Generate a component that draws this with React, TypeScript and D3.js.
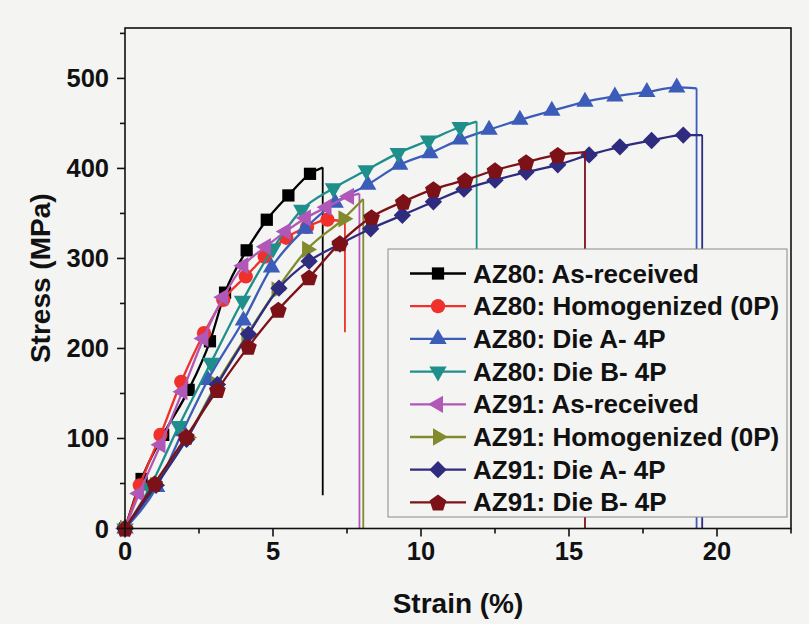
import React from "react";
import * as d3 from "d3";

// ---------- data ----------
const seriesNames = [
  "AZ80: As-received",
  "AZ80: Homogenized (0P)",
  "AZ80: Die A- 4P",
  "AZ80: Die B- 4P",
  "AZ91: As-received",
  "AZ91: Homogenized (0P)",
  "AZ91: Die A- 4P",
  "AZ91: Die B- 4P",
];

const az80AsRecStrain = [0, 0.56, 1.29, 2.15, 2.87, 3.38, 4.11, 4.79, 5.52, 6.25];
const az80AsRecStress = [0, 55, 104, 154, 208, 262, 309, 343, 370, 394];

const az80HomStrain = [0, 0.5, 1.2, 1.9, 2.67, 3.32, 4.08, 4.72, 5.45, 6.15, 6.84];
const az80HomStress = [0, 48, 104, 163, 217, 254, 280, 302, 323, 335, 343];

const az80DieAStrain = [0, 1.07, 1.95, 2.8, 4.0, 4.95, 6.08, 7.1, 8.2, 9.28, 10.3, 11.32, 12.3, 13.34, 14.42, 15.54, 16.55, 17.63, 18.64];
const az80DieAStress = [0, 46, 108, 165, 231, 290, 333, 362, 382, 404, 417, 432, 443, 454, 464, 474, 480, 485, 490];

const az80DieBStrain = [0, 0.83, 1.82, 2.9, 3.97, 5.0, 5.97, 7.04, 8.15, 9.23, 10.25, 11.32];
const az80DieBStress = [0, 45, 114, 184, 253, 311, 354, 378, 398, 417, 431, 446];

const az91AsRecStrain = [0, 0.48, 1.2, 1.94, 2.65, 3.32, 4.0, 4.76, 5.43, 6.11, 6.81, 7.57];
const az91AsRecStress = [0, 39, 93, 152, 211, 257, 292, 313, 330, 345, 357, 369];

const az91HomStrain = [0, 1.02, 2.1, 3.08, 4.1, 5.12, 6.15, 7.38];
const az91HomStress = [0, 48, 101, 160, 214, 265, 310, 344];

const az91DieAStrain = [0, 1.05, 2.08, 3.12, 4.17, 5.2, 6.22, 7.26, 8.3, 9.37, 10.42, 11.45, 12.5, 13.55, 14.62, 15.68, 16.72, 17.79, 18.86];
const az91DieAStress = [0, 48, 99, 160, 216, 267, 297, 316, 333, 348, 363, 377, 387, 396, 404, 415, 424, 431, 437];

const az91DieBStrain = [0, 1.0, 2.07, 3.12, 4.17, 5.18, 6.22, 7.26, 8.33, 9.4, 10.42, 11.49, 12.5, 13.55, 14.62];
const az91DieBStress = [0, 50, 102, 154, 202, 243, 279, 317, 346, 363, 377, 387, 398, 407, 415];

// fracture point (strain, stress) and stress reached by the final drop
const fractureStrain = [6.68, 7.43, 19.31, 11.88, 7.92, 8.05, 19.5, 15.54];
const fractureStress = [401, 341, 489, 452, 372, 366, 437, 418];
const dropStress = [37, 218, 0, 120, 0, 0, 0, 0];

const strainTicks = [0, 5, 10, 15, 20];
const strainMinorTicks = [2.5, 7.5, 12.5, 17.5, 22.5];
const stressTicks = [0, 100, 200, 300, 400, 500];
const stressMinorTicks = [50, 150, 250, 350, 450, 550];

const allStrain = [az80AsRecStrain, az80HomStrain, az80DieAStrain, az80DieBStrain, az91AsRecStrain, az91HomStrain, az91DieAStrain, az91DieBStrain];
const allStress = [az80AsRecStress, az80HomStress, az80DieAStress, az80DieBStress, az91AsRecStress, az91HomStress, az91DieAStress, az91DieBStress];

// ---------- styles ----------
const colors = ["#000000", "#f0312b", "#3b5cb8", "#1e8f8b", "#b058b8", "#818b2c", "#2f2b7e", "#7c1218"];
const symbolKinds = ["square", "circle", "up", "down", "left", "right", "diamond", "pentagon"];
const BG = "#f4f4f3";
const FONT = "'Liberation Sans', Arial, Helvetica, sans-serif";

function symbolPath(kind: string): string {
  switch (kind) {
    case "square":
      return d3.symbol(d3.symbolSquare, 150)()!;
    case "circle":
      return d3.symbol(d3.symbolCircle, 160)()!;
    case "up":
    case "down":
    case "left":
    case "right":
      return d3.symbol(d3.symbolTriangle, 130)()!;
    case "diamond":
      return d3.symbol(d3.symbolSquare, 150)()!;
    case "pentagon": {
      const r = 8.8;
      const pts = d3.range(5).map((i) => {
        const a = -Math.PI / 2 + (i * 2 * Math.PI) / 5;
        return [r * Math.cos(a), r * Math.sin(a) + 0.9];
      });
      return "M" + pts.map((p) => p.join(",")).join("L") + "Z";
    }
  }
  return "";
}
function symbolRotation(kind: string): number {
  switch (kind) {
    case "down":
      return 180;
    case "left":
      return -90;
    case "right":
      return 90;
    case "diamond":
      return 45;
  }
  return 0;
}

function Marker({ kind, color, x, y }: { kind: string; color: string; x: number; y: number }) {
  return (
    <path
      d={symbolPath(kind)}
      fill={color}
      transform={`translate(${x},${y}) rotate(${symbolRotation(kind)})`}
    />
  );
}

export default function App() {
  const W = 809;
  const H = 624;
  const x = d3.scaleLinear().domain([0, 22.5]).range([125, 791]);
  const y = d3.scaleLinear().domain([0, 556]).range([528.5, 28]);

  const line = d3
    .line<[number, number]>()
    .x((d) => x(d[0]))
    .y((d) => y(d[1]))
    .curve(d3.curveMonotoneX);

  const legendX = 388;
  const legendY = 249;
  const legendW = 399;
  const legendH = 268;
  const rowY0 = 273.5;
  const rowStep = 32.7;

  return (
    <svg
      width={W}
      height={H}
      style={{ position: "absolute", left: 0, top: 0, background: BG }}
      fontFamily={FONT}
    >
      <rect x={0} y={0} width={W} height={H} fill={BG} />

      {/* series */}
      {allStrain.map((sx, i) => {
        const pts: [number, number][] = sx.map((s, j) => [s, allStress[i][j]]);
        const full: [number, number][] = [...pts, [fractureStrain[i], fractureStress[i]]];
        return (
          <g key={i}>
            <path d={line(full)!} fill="none" stroke={colors[i]} strokeWidth={2.3} strokeLinejoin="round" />
            <line
              x1={x(fractureStrain[i])}
              x2={x(fractureStrain[i])}
              y1={y(fractureStress[i])}
              y2={y(dropStress[i])}
              stroke={colors[i]}
              strokeWidth={1.8}
            />
            {pts.map((p, j) => (
              <Marker key={j} kind={symbolKinds[i]} color={colors[i]} x={x(p[0])} y={y(p[1])} />
            ))}
          </g>
        );
      })}

      {/* frame */}
      <rect
        x={x(0)}
        y={y.range()[1]}
        width={x(22.5) - x(0)}
        height={y.range()[0] - y.range()[1]}
        fill="none"
        stroke="#111"
        strokeWidth={1.6}
      />

      {/* x ticks */}
      {strainTicks.map((t) => (
        <g key={"xt" + t}>
          <line x1={x(t)} x2={x(t)} y1={y(0)} y2={y(0) + 8} stroke="#111" strokeWidth={1.6} />
          <text x={x(t)} y={y(0) + 31} textAnchor="middle" fontSize={25.5} fontWeight="bold" fill="#111">
            {t}
          </text>
        </g>
      ))}
      {strainMinorTicks.map((t) => (
        <line key={"xm" + t} x1={x(t)} x2={x(t)} y1={y(0)} y2={y(0) + 5} stroke="#111" strokeWidth={1.6} />
      ))}

      {/* y ticks */}
      {stressTicks.map((t) => (
        <g key={"yt" + t}>
          <line x1={x(0) - 8} x2={x(0)} y1={y(t)} y2={y(t)} stroke="#111" strokeWidth={1.6} />
          <text x={x(0) - 16} y={y(t)} textAnchor="end" dominantBaseline="central" fontSize={25.5} fontWeight="bold" fill="#111">
            {t}
          </text>
        </g>
      ))}
      {stressMinorTicks.map((t) => (
        <line key={"ym" + t} x1={x(0) - 5} x2={x(0)} y1={y(t)} y2={y(t)} stroke="#111" strokeWidth={1.6} />
      ))}

      {/* axis titles */}
      <text x={458} y={613} textAnchor="middle" fontSize={28} fontWeight="bold" fill="#111">
        Strain (%)
      </text>
      <text
        transform={`translate(50,${(y(0) + y(556)) / 2}) rotate(-90)`}
        textAnchor="middle"
        fontSize={28}
        fontWeight="bold"
        fill="#111"
      >
        Stress (MPa)
      </text>

      {/* legend */}
      <rect x={legendX} y={legendY} width={legendW} height={legendH} fill={BG} stroke="#8a8a8a" strokeWidth={1} />
      {seriesNames.map((name, i) => {
        const ry = rowY0 + i * rowStep;
        return (
          <g key={"lg" + i}>
            <line x1={410} x2={466} y1={ry} y2={ry} stroke={colors[i]} strokeWidth={2.3} />
            <Marker kind={symbolKinds[i]} color={colors[i]} x={438} y={ry} />
            <text x={473} y={ry} dominantBaseline="central" fontSize={26} fontWeight="bold" fill="#111">
              {name}
            </text>
          </g>
        );
      })}
    </svg>
  );
}
